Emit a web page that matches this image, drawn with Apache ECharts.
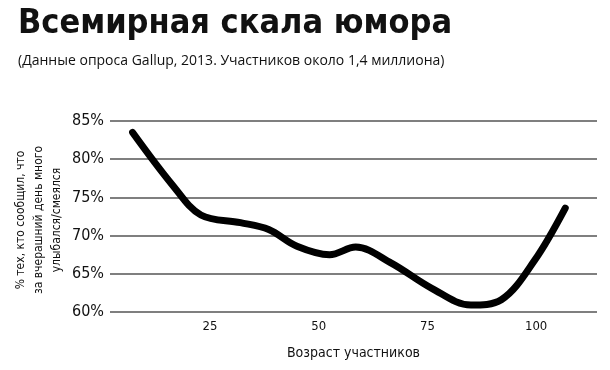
<!DOCTYPE html>
<html><head><meta charset="utf-8">
<script src="https://cdn.jsdelivr.net/npm/echarts@6/dist/echarts.min.js"></script>
<style>html,body{margin:0;padding:0;background:#fff}#c{width:610px;height:370px}</style>
</head><body><div id="c"></div>
<script>
const ages = [7.2, 16.4, 22.9, 32.0, 38.5, 45.0, 52.5, 58.5, 66.7, 76.0, 85.0, 92.0, 99.7, 106.7];
const shares = [83.5, 76.6, 72.7, 71.7, 70.8, 68.6, 67.5, 68.5, 66.4, 63.1, 60.9, 61.6, 66.8, 73.6];
const xTicks = [25, 50, 75, 100];
const yTicks = [60, 65, 70, 75, 80, 85];
const titleText = 'Всемирная скала юмора';
const subtitleText = '(Данные опроса Gallup, 2013. Участников около 1,4 миллиона)';
const xName = 'Возраст участников';
const yName = '% тех, кто сообщил, что\nза вчерашний день много\nулыбался/смеялся';

const chart = echarts.init(document.getElementById('c'), null, {renderer: 'canvas'});
chart.setOption({
  animation: false,
  title: {
    text: titleText,
    subtext: subtitleText,
    left: 13, top: 2,
    itemGap: 13,
    textStyle: {fontFamily: 'DejaVu Sans Condensed', fontWeight: 'bold', fontSize: 34, color: '#111'},
    subtextStyle: {fontFamily: 'Open Sans', fontSize: 14, color: '#111'}
  },
  grid: {left: 110, right: 13, top: 121, bottom: 58},
  xAxis: {
    type: 'value', min: 2, max: 114,
    axisLine: {show: false}, axisTick: {show: false}, splitLine: {show: false},
    axisLabel: {customValues: xTicks, color: '#111', fontFamily: 'DejaVu Sans Condensed', fontSize: 13, margin: 8},
    name: xName, nameLocation: 'middle', nameGap: 34,
    nameTextStyle: {fontFamily: 'DejaVu Sans Condensed', fontSize: 14, color: '#111'}
  },
  yAxis: {
    type: 'value', min: 60, max: 85, interval: 5,
    axisLine: {show: false}, axisTick: {show: false},
    splitLine: {lineStyle: {color: '#555', width: 1.5}},
    axisLabel: {formatter: v => yTicks.includes(v) ? v + '%' : '', color: '#111', fontFamily: 'DejaVu Sans Condensed', fontSize: 16, margin: 6}
  },
  graphic: [{
    type: 'text', x: 39, y: 220, rotation: Math.PI / 2,
    style: {text: yName, align: 'center', verticalAlign: 'middle', fontFamily: 'DejaVu Sans Condensed', fontSize: 12, lineHeight: 18, fill: '#111'}
  }],
  series: [{
    type: 'line',
    data: ages.map((a, i) => [a, shares[i]]),
    smooth: 0.35,
    showSymbol: false,
    lineStyle: {color: '#000', width: 7, cap: 'round', join: 'round'}
  }]
});
</script></body></html>
